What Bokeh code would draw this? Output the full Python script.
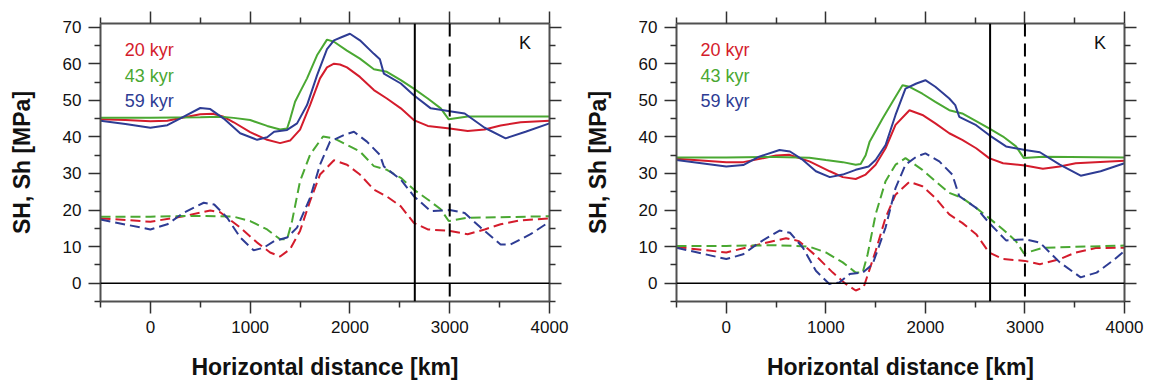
from bokeh.plotting import figure
from bokeh.layouts import row
from bokeh.models import Range1d, LinearAxis, FixedTicker, Span, Label, CustomLabelingPolicy
from bokeh.embed import file_html
from bokeh.resources import INLINE

FONT = "Liberation Sans"
RED, GREEN, BLUE = "#d41c2c", "#4aa832", "#2e3c94"

AGES = ["20 kyr", "43 kyr", "59 kyr"]
X_TICKS = [0, 1000, 2000, 3000, 4000]
X_MINOR = [-500, 500, 1500, 2500, 3500]
Y_TICKS = [0, 10, 20, 30, 40, 50, 60, 70]
Y_MINOR = [-5, 5, 15, 25, 35, 45, 55, 65]
BOUNDARY_SOLID = 2650
BOUNDARY_DASHED = 3000

# ---------------- left panel ----------------
L_SH20_x = [-500, -250, 0, 170, 330, 500, 630, 735, 835, 1000, 1170, 1300, 1400, 1500, 1600, 1700,
            1770, 1840, 1900, 1970, 2100, 2240, 2370, 2510, 2640, 2780, 3000, 3180, 3350, 3510, 3710, 4000]
L_SH20_y = [44.8, 44.6, 44.3, 44.4, 45.3, 46.2, 46.3, 45.5, 44.0, 41.3, 39.2, 38.3, 39.0, 42.0, 48.7, 56.0,
            59.0, 60.0, 59.8, 59.0, 56.4, 52.8, 50.5, 47.8, 44.6, 43.0, 42.3, 41.6, 42.0, 43.1, 44.0, 44.4]

L_SH43_x = [-500, 0, 500, 700, 835, 1000, 1170, 1300, 1370, 1400, 1450, 1500, 1570, 1670, 1770, 1840,
            1970, 2100, 2240, 2370, 2510, 2640, 2780, 2910, 2990, 3180, 4000]
L_SH43_y = [45.2, 45.2, 45.4, 45.5, 45.2, 44.6, 43.0, 42.0, 42.3, 44.8, 49.6, 52.3, 56.0, 62.3, 66.6, 66.0,
            63.6, 61.4, 58.5, 57.8, 55.5, 53.2, 50.5, 47.8, 44.8, 45.6, 45.6]

L_SH59_x = [-500, -250, 0, 170, 330, 500, 600, 735, 900, 1070, 1170, 1240, 1370, 1470, 1570, 1670, 1770,
            1840, 1920, 2000, 2100, 2240, 2300, 2340, 2510, 2640, 2810, 3000, 3150, 3350, 3560, 3760, 4000]
L_SH59_y = [44.4, 43.5, 42.5, 43.2, 45.5, 47.9, 47.6, 45.0, 41.0, 39.2, 39.9, 41.4, 41.9, 43.7, 48.7, 56.8, 64.0,
            66.4, 67.3, 68.2, 66.4, 62.7, 61.2, 57.3, 54.6, 51.4, 47.8, 47.0, 46.4, 42.5, 39.6, 41.4, 43.7]

L_Sh20_x = [-500, -250, 0, 330, 600, 700, 900, 1070, 1200, 1300, 1400, 1500, 1600, 1700, 1840, 1970,
            2100, 2240, 2370, 2510, 2640, 2780, 3000, 3180, 3350, 3510, 3710, 4000]
L_Sh20_y = [17.7, 17.3, 16.8, 18.3, 19.9, 19.4, 15.2, 11.1, 8.4, 7.3, 9.3, 14.3, 22.4, 29.7, 33.6, 32.4,
            29.7, 25.6, 23.7, 21.0, 16.5, 14.7, 14.3, 13.4, 14.7, 16.1, 17.2, 17.7]

L_Sh43_x = [-500, 0, 500, 835, 1000, 1170, 1300, 1370, 1420, 1500, 1600, 1730, 1840, 1970, 2100, 2240,
            2370, 2510, 2640, 2780, 2910, 2990, 3180, 4000]
L_Sh43_y = [18.2, 18.2, 18.4, 18.2, 17.0, 14.7, 12.0, 12.0, 17.0, 27.9, 35.1, 40.1, 39.6, 37.8, 36.0, 32.0,
            31.0, 28.8, 25.6, 22.9, 20.2, 17.0, 17.9, 18.3]

L_Sh59_x = [-500, 0, 170, 330, 535, 640, 770, 900, 1035, 1135, 1240, 1370, 1470, 1600, 1700, 1800, 1940,
            2040, 2170, 2300, 2340, 2510, 2640, 2810, 3000, 3150, 3310, 3510, 3610, 3810, 4000]
L_Sh59_y = [17.4, 14.7, 16.1, 19.2, 22.0, 21.5, 17.9, 12.5, 9.0, 9.7, 11.5, 12.5, 15.2, 23.3, 32.4, 38.7, 40.5,
            41.4, 38.7, 35.1, 31.9, 28.3, 23.8, 19.7, 20.0, 19.2, 15.2, 10.6, 10.6, 13.4, 16.8]

# ---------------- right panel ----------------
R_SH20_x = [-500, 0, 170, 500, 630, 835, 1040, 1170, 1300, 1400, 1500, 1600, 1700, 1840, 1970, 2100,
            2240, 2370, 2510, 2640, 2780, 3000, 3180, 3350, 3510, 4000]
R_SH20_y = [34.0, 33.1, 33.1, 34.9, 35.1, 33.3, 30.6, 29.0, 28.5, 29.7, 32.4, 36.9, 43.3, 47.3, 46.0, 43.7,
            41.0, 39.2, 36.9, 34.2, 32.8, 32.2, 31.3, 31.9, 32.8, 33.5]

R_SH43_x = [-500, 0, 500, 835, 1000, 1170, 1300, 1350, 1400, 1440, 1570, 1670, 1770, 1840, 1970, 2100,
            2240, 2370, 2510, 2640, 2780, 2910, 2990, 3180, 4000]
R_SH43_y = [34.4, 34.4, 34.5, 34.3, 33.7, 33.1, 32.4, 32.6, 35.0, 38.7, 45.0, 49.6, 54.1, 53.7, 51.8, 49.6,
            47.3, 46.4, 44.3, 42.3, 40.1, 37.4, 34.2, 34.6, 34.4]

R_SH59_x = [-500, 0, 170, 330, 535, 640, 770, 900, 1040, 1170, 1300, 1430, 1500, 1600, 1700, 1800, 1910,
            2000, 2100, 2240, 2300, 2340, 2510, 2640, 2810, 3000, 3150, 3350, 3560, 3760, 4000]
R_SH59_y = [33.7, 31.9, 32.3, 34.6, 36.4, 36.0, 33.7, 30.6, 29.0, 29.7, 31.0, 31.9, 33.7, 37.8, 46.0, 53.2, 54.6,
            55.5, 53.7, 50.5, 48.7, 45.5, 43.2, 40.5, 37.4, 36.4, 35.8, 32.4, 29.4, 30.6, 32.8]

R_Sh20_x = [-500, 0, 330, 600, 730, 900, 1070, 1200, 1300, 1380, 1500, 1600, 1700, 1840, 1970, 2100,
            2240, 2370, 2510, 2640, 2780, 3000, 3150, 3350, 3510, 3710, 4000]
R_Sh20_y = [9.9, 8.4, 10.6, 12.3, 11.5, 7.5, 2.9, -0.2, -2.0, -1.1, 8.8, 17.9, 24.2, 27.7, 26.5, 23.3,
            18.8, 16.5, 13.4, 8.4, 6.6, 6.1, 5.2, 6.6, 8.4, 9.6, 9.7]

R_Sh43_x = [-500, 0, 500, 835, 1000, 1170, 1300, 1370, 1420, 1500, 1600, 1700, 1800, 1970, 2100, 2240,
            2370, 2510, 2640, 2780, 2910, 2990, 3180, 4000]
R_Sh43_y = [10.2, 10.2, 10.4, 10.0, 8.4, 5.7, 2.9, 2.9, 7.9, 18.8, 27.9, 32.4, 34.2, 31.0, 27.9, 24.7,
            23.3, 20.6, 17.8, 14.7, 11.5, 8.1, 9.7, 10.3]

R_Sh59_x = [-500, 0, 170, 330, 535, 640, 770, 900, 1035, 1135, 1240, 1370, 1470, 1600, 1700, 1800, 1910,
            2000, 2140, 2270, 2340, 2510, 2640, 2810, 3000, 3150, 3350, 3560, 3720, 3880, 4000]
R_Sh59_y = [9.7, 6.6, 7.9, 11.1, 14.4, 13.8, 9.7, 3.4, -0.2, 0.2, 2.5, 2.9, 5.2, 15.2, 26.0, 32.4, 34.6,
            35.5, 33.3, 29.7, 23.8, 20.6, 16.5, 11.7, 12.0, 11.1, 5.7, 1.6, 2.9, 6.1, 8.8]

LEFT_SERIES = [
    (L_SH20_x, L_SH20_y, RED, "solid"), (L_SH43_x, L_SH43_y, GREEN, "solid"), (L_SH59_x, L_SH59_y, BLUE, "solid"),
    (L_Sh20_x, L_Sh20_y, RED, "10 5"), (L_Sh43_x, L_Sh43_y, GREEN, "10 5"), (L_Sh59_x, L_Sh59_y, BLUE, "10 5"),
]
RIGHT_SERIES = [
    (R_SH20_x, R_SH20_y, RED, "solid"), (R_SH43_x, R_SH43_y, GREEN, "solid"), (R_SH59_x, R_SH59_y, BLUE, "solid"),
    (R_Sh20_x, R_Sh20_y, RED, "10 5"), (R_Sh43_x, R_Sh43_y, GREEN, "10 5"), (R_Sh59_x, R_Sh59_y, BLUE, "10 5"),
]

# top and right frame axes carry ticks only, so every label is filtered out
NO_LABELS = CustomLabelingPolicy(code="""
    const ids = Array.from(indices)
    for (const i of ids) indices.unset(i)
    return indices
""")


def style_axis(ax, show_labels):
    ax.axis_line_color = "#505050"
    ax.axis_line_width = 2
    ax.major_tick_line_color = "#303030"
    ax.minor_tick_line_color = "#303030"
    ax.major_tick_line_width = 1.5
    ax.minor_tick_line_width = 1.5
    ax.major_tick_in = 0
    ax.minor_tick_in = 0
    ax.major_tick_out = 12
    ax.minor_tick_out = 6
    if show_labels:
        ax.major_label_text_font = FONT
        ax.major_label_text_font_size = "17px"
        ax.major_label_text_color = "#111111"
        ax.axis_label_text_font = FONT
        ax.axis_label_text_font_size = "23px"
        ax.axis_label_text_font_style = "bold"
        ax.axis_label_text_color = "#111111"
    else:
        ax.major_label_policy = NO_LABELS
        ax.major_label_standoff = 0


def make_panel(series, width, border_left, border_right):
    p = figure(width=width, height=385, output_backend="svg", toolbar_location=None,
               x_range=Range1d(-500, 4000), y_range=Range1d(-5, 71),
               min_border_left=border_left, min_border_right=border_right,
               min_border_top=21, min_border_bottom=84)
    p.outline_line_color = None
    p.xgrid.visible = False
    p.ygrid.visible = False

    p.xaxis.ticker = FixedTicker(ticks=X_TICKS, minor_ticks=X_MINOR)
    p.yaxis.ticker = FixedTicker(ticks=Y_TICKS, minor_ticks=Y_MINOR)
    p.xaxis.axis_label = "Horizontal distance [km]"
    p.yaxis.axis_label = "SH, Sh [MPa]"
    for ax in p.xaxis + p.yaxis:
        style_axis(ax, True)
    p.xaxis.major_label_standoff = 7
    p.yaxis.major_label_standoff = 7
    p.xaxis.axis_label_standoff = 18
    p.yaxis.axis_label_standoff = 25

    top = LinearAxis(ticker=FixedTicker(ticks=X_TICKS, minor_ticks=X_MINOR))
    right = LinearAxis(ticker=FixedTicker(ticks=Y_TICKS, minor_ticks=Y_MINOR))
    style_axis(top, False)
    style_axis(right, False)
    p.add_layout(top, "above")
    p.add_layout(right, "right")

    p.add_layout(Span(location=0, dimension="width", line_color="black", line_width=1.5))

    for x, y, c, dash in series:
        p.line(x, y, line_color=c, line_width=2, line_dash=dash)

    p.add_layout(Span(location=BOUNDARY_SOLID, dimension="height", line_color="black", line_width=2))
    p.add_layout(Span(location=BOUNDARY_DASHED, dimension="height", line_color="black", line_width=2,
                      line_dash="13 7"))

    for txt, col, yy in zip(AGES, [RED, GREEN, BLUE], [63.7, 56.7, 49.7]):
        p.add_layout(Label(x=-258, y=yy, text=txt, text_color=col, text_font=FONT,
                           text_font_size="18px", text_baseline="alphabetic"))
    p.add_layout(Label(x=3694, y=65.6, text="K", text_color="#111111", text_font=FONT,
                       text_font_size="18px", text_baseline="alphabetic"))
    return p


p1 = make_panel(LEFT_SERIES, 576, 100, 27)
p2 = make_panel(RIGHT_SERIES, 575, 100, 27)
layout = row(p1, p2)

open("out.html", "w").write(file_html(layout, INLINE))
